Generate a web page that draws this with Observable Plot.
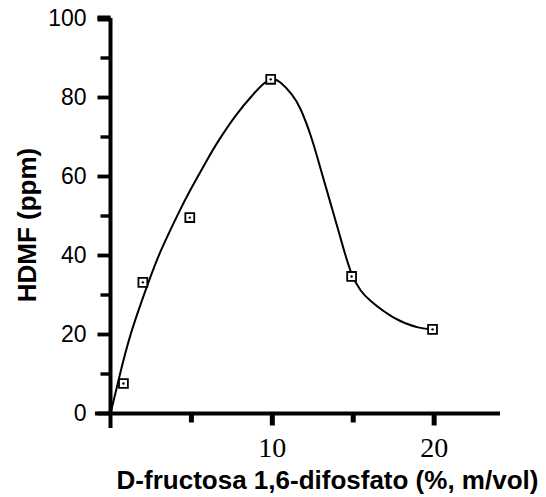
<!DOCTYPE html>
<html><head><meta charset="utf-8">
<script src="https://cdn.jsdelivr.net/npm/d3@7"></script>
<script src="https://cdn.jsdelivr.net/npm/@observablehq/plot@0.6"></script>
<style>
html,body{margin:0;padding:0;background:#fff;}
g[aria-label="ytick-major"] path{stroke-width:3.8px;stroke:#000;}
g[aria-label="ytick-minor"] path{stroke-width:3.4px;stroke:#000;}
g[aria-label="ytick-top"] path{stroke-width:6px;stroke:#000;}
g[aria-label="xtick"] path{stroke-width:5px;stroke:#000;}
g[aria-label="axis-line"] line{stroke-width:4px;stroke:#000;}
</style>
</head><body><div id="chart"></div>
<script>
// Measured points
const pointX = [0.8, 2.0, 4.9, 9.9, 14.9, 19.9];
const pointY = [7.6, 33.2, 49.6, 84.6, 34.7, 21.3];
// Fitted curve
const curveX = [0.0, 0.5, 1.25, 2.3, 3.1, 4.15, 4.95, 5.9, 6.7, 7.75, 8.8, 9.5, 10.0, 10.5, 11.2, 11.76, 12.4, 13.0, 13.6, 14.2, 14.86, 15.45, 16.1, 17.5, 19.0, 19.9];
const curveY = [0.0, 8.5, 20.1, 32.7, 41.1, 50.3, 56.7, 63.7, 69.2, 75.5, 80.7, 83.6, 84.6, 83.8, 80.8, 76.9, 70.0, 61.7, 53.2, 44.6, 35.8, 31.2, 28.4, 24.3, 21.8, 21.3];
const yMajorTicks = [0, 20, 40, 60, 80, 100];
const yMinorTicks = [10, 30, 50, 70, 90];
const yTopTick = [100];
const xMajorTicks = [10, 20];
const xMinorTicks = [5, 15];
const xTitle = "D-fructosa 1,6-difosfato (%, m/vol)";
const yTitle = "HDMF (ppm)";
const xDomain = [0, 24.1];
const yDomain = [0, 100];
const xAxisExtent = [-0.93, 24.1];
const yAxisExtent = [-3.8, 100];

const points = pointX.map((x, i) => ({x, y: pointY[i]}));
const curve = curveX.map((x, i) => ({x, y: curveY[i]}));

// tick glyphs drawn as custom dot symbols (pixel lengths)
const leftTick = (len) => ({draw(ctx) { ctx.moveTo(-len, 0); ctx.lineTo(0, 0); }});
const downTick = (len) => ({draw(ctx) { ctx.moveTo(0, 0); ctx.lineTo(0, len); }});

const chart = Plot.plot({
  width: 546,
  height: 497,
  marginLeft: 110,
  marginRight: 46,
  marginTop: 18,
  marginBottom: 84,
  style: {fontFamily: "'Liberation Sans', Arial, sans-serif", color: "black", background: "white", overflow: "visible"},
  x: {domain: xDomain},
  y: {domain: yDomain},
  marks: [
    Plot.axisY(yMajorTicks, {anchor: "left", tickSize: 0, tickPadding: 24, fontSize: 23, tickFormat: d => String(d), label: null}),
    Plot.axisX(xMajorTicks, {anchor: "bottom", tickSize: 0, tickPadding: 24, fontSize: 28, fontFamily: "'Liberation Serif', 'Times New Roman', serif", tickFormat: d => String(d), label: null}),
    Plot.dot(yMajorTicks, {x: 0, y: d => d, symbol: leftTick(13), fill: "none", stroke: "black", strokeWidth: 3.8, strokeLinecap: "butt", ariaLabel: "ytick-major"}),
    Plot.dot(yMinorTicks, {x: 0, y: d => d, symbol: leftTick(10), fill: "none", stroke: "black", strokeWidth: 3.4, strokeLinecap: "butt", ariaLabel: "ytick-minor"}),
    Plot.dot(yTopTick, {x: 0, y: d => d, symbol: leftTick(13), fill: "none", stroke: "black", strokeWidth: 6, strokeLinecap: "butt", ariaLabel: "ytick-top"}),
    Plot.dot(xMajorTicks, {x: d => d, y: 0, symbol: downTick(12), fill: "none", stroke: "black", strokeWidth: 5, strokeLinecap: "butt", ariaLabel: "xtick"}),
    Plot.dot(xMinorTicks, {x: d => d, y: 0, symbol: downTick(9), fill: "none", stroke: "black", strokeWidth: 5, strokeLinecap: "butt", ariaLabel: "xtick"}),
    Plot.ruleX([0], {y1: yAxisExtent[0], y2: yAxisExtent[1], stroke: "black", strokeWidth: 4, ariaLabel: "axis-line"}),
    Plot.ruleY([0], {x1: xAxisExtent[0], x2: xAxisExtent[1], stroke: "black", strokeWidth: 4, ariaLabel: "axis-line"}),
    Plot.line(curve, {x: "x", y: "y", curve: "natural", stroke: "black", strokeWidth: 2}),
    Plot.dot(points, {x: "x", y: "y", symbol: "square", r: 5, stroke: "black", fill: "white", strokeWidth: 1.8}),
    Plot.dot(points, {x: "x", y: "y", r: 1.2, fill: "black"}),
    Plot.text([yTitle], {frameAnchor: "left", dx: -75, dy: 9, rotate: -90, lineAnchor: "bottom", textAnchor: "middle", fontSize: 26, fontWeight: "bold"}),
    Plot.text([xTitle], {frameAnchor: "bottom", dx: 22, dy: 75, lineAnchor: "bottom", textAnchor: "middle", fontSize: 26, fontWeight: "bold"})
  ]
});
document.getElementById("chart").appendChild(chart);
</script>
</body></html>
